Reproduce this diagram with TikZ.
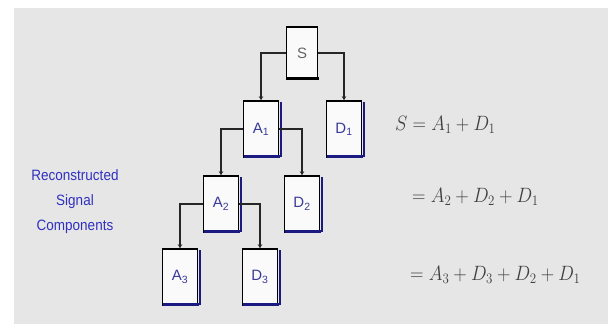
\documentclass[tikz,border=0pt]{standalone}
\usepackage{fontspec}
\setsansfont{Liberation Sans}
\usetikzlibrary{arrows.meta,calc}
\definecolor{panel}{HTML}{E6E6E6}
\definecolor{navy}{HTML}{1A1A80}
\definecolor{lblue}{HTML}{3A3A9A}
\definecolor{tblue}{HTML}{3030C0}
\tikzset{
  blk/.style={draw=black, line width=1.6pt, fill=white!96!gray, minimum width=35pt, minimum height=56pt, inner sep=0pt, font=\sffamily\fontsize{15}{15}\selectfont, text=lblue},
  conn/.style={draw=black!85, line width=1.8pt, -{Stealth[length=4pt,width=4.5pt]}},
  eq/.style={anchor=west, font=\fontsize{22}{22}\selectfont, text=black!75, inner sep=0pt, xscale=0.9}
}
\newcommand{\shadowbox}[1]{%
  \draw[navy, line width=3pt] ($(#1.south west)+(0.8,-1)$) -- ($(#1.south east)+(0.8,-1)$);
  \draw[navy, line width=1.6pt] ($(#1.north east)+(1.6,2)$) -- ($(#1.south east)+(1.6,-1)$);
}
\begin{document}
\begin{tikzpicture}[x=1pt,y=-1pt]
\useasboundingbox (0,0) rectangle (613,329);
\fill[white] (0,0) rectangle (613,329);
\fill[panel] (14,8) rectangle (608,324);
% boxes
\node[blk, minimum width=31pt, minimum height=52pt, text=black!60] (S) at (302,53) {S};
\node[blk] (A1) at (261,129) {A\textsubscript{1}};
\node[blk] (D1) at (344,129) {D\textsubscript{1}};
\node[blk] (A2) at (221,204) {A\textsubscript{2}};
\node[blk] (D2) at (302,204) {D\textsubscript{2}};
\node[blk] (A3) at (180,277) {A\textsubscript{3}};
\node[blk] (D3) at (260,277) {D\textsubscript{3}};
\draw[black, line width=3pt] ($(S.south west)+(0.8,-1)$) -- ($(S.south east)+(0.8,-1)$);
\shadowbox{A1}\shadowbox{D1}\shadowbox{A2}\shadowbox{D2}\shadowbox{A3}\shadowbox{D3}
% connectors
\draw[conn] (S.west) -| (A1.north);
\draw[conn] (S.east) -| (D1.north);
\draw[conn] (A1.west) -| (A2.north);
\draw[conn] (A1.east) -| (D2.north);
\draw[conn] (A2.west) -| (A3.north);
\draw[conn] (A2.east) -| (D3.north);
% left label
\node[text=tblue, font=\sffamily\fontsize{15}{25}\selectfont, align=center, inner sep=0pt, xscale=0.9] (lbl) at (75,202) {Reconstructed\\Signal\\Components};
% equations
\node[eq] (e1) at (395,125) {$S = A_1 + D_1$};
\node[eq] (e2) at (412,197) {$= A_2 + D_2 + D_1$};
\node[eq] (e3) at (410,275) {$= A_3 + D_3 + D_2 + D_1$};
\end{tikzpicture}
\end{document}
